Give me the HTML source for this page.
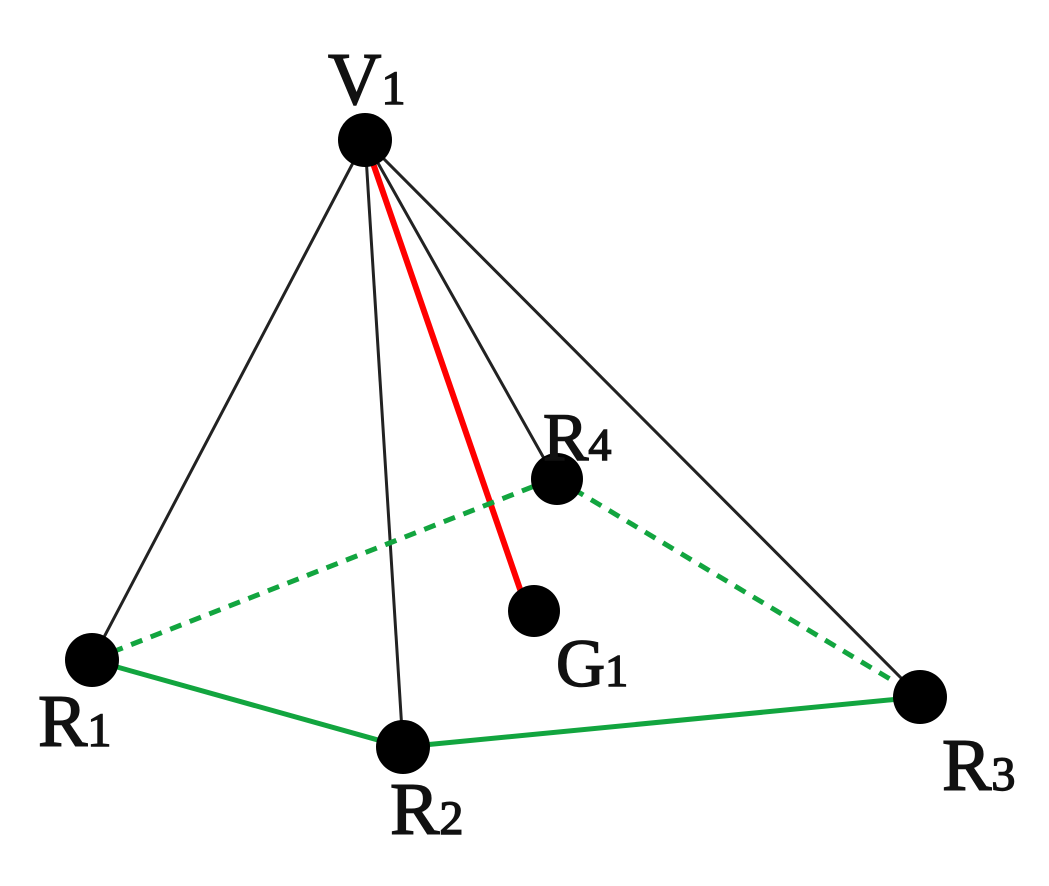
<!DOCTYPE html>
<html><head><meta charset="utf-8"><style>
html,body{margin:0;padding:0;background:#fff;}
svg text{font-family:"Liberation Serif",serif;font-weight:normal;fill:#111;stroke:#111;stroke-width:1.5;}
</style></head><body>
<svg width="1049" height="881" viewBox="0 0 1049 881" xmlns="http://www.w3.org/2000/svg">
<g stroke="#222" stroke-width="3" fill="none">
<line x1="365" y1="140" x2="92" y2="660"/>
<line x1="365" y1="140" x2="403" y2="747"/>
<line x1="365" y1="140" x2="555" y2="478"/>
<line x1="365" y1="140" x2="920" y2="697"/>
</g>
<line x1="365" y1="140" x2="521" y2="592" stroke="#f00" stroke-width="6"/>
<g stroke="#12a53f" fill="none">
<line x1="92" y1="660" x2="403" y2="747" stroke-width="5"/>
<line x1="403" y1="747" x2="920" y2="697" stroke-width="5"/>
<line x1="92" y1="660" x2="555" y2="478" stroke-width="5" stroke-dasharray="12,9"/>
<line x1="555" y1="478" x2="920" y2="697" stroke-width="5" stroke-dasharray="12,9"/>
</g>
<g fill="#000">
<circle cx="365" cy="140" r="27"/>
<circle cx="92" cy="660" r="27"/>
<circle cx="403" cy="747" r="27"/>
<circle cx="920" cy="697" r="27"/>
<circle cx="557" cy="479" r="26"/>
<circle cx="534" cy="611" r="26"/>
</g>
<text x="328" y="104" font-size="74">V<tspan font-size="48">1</tspan></text>
<text x="38" y="746" font-size="74">R<tspan font-size="48">1</tspan></text>
<text x="390" y="834" font-size="74">R<tspan font-size="48">2</tspan></text>
<text x="942" y="790" font-size="74">R<tspan font-size="48">3</tspan></text>
<text x="543" y="460" font-size="68">R<tspan font-size="46">4</tspan></text>
<text x="556" y="686" font-size="68">G<tspan font-size="46">1</tspan></text>
</svg>
</body></html>
